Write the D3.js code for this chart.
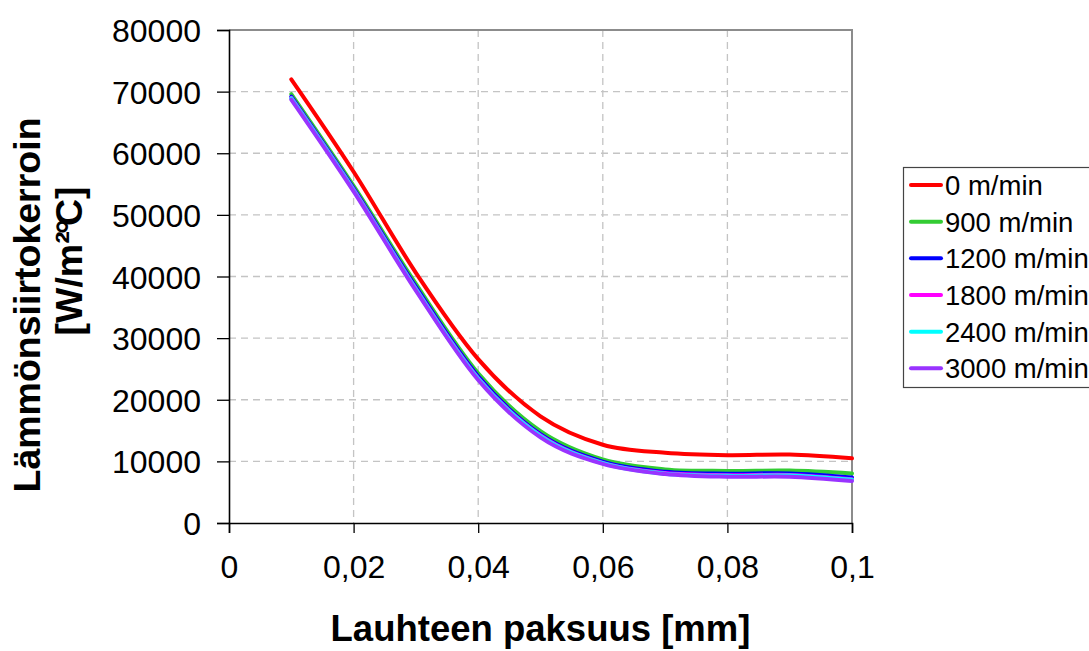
<!DOCTYPE html>
<html>
<head>
<meta charset="utf-8">
<script src="https://cdn.jsdelivr.net/npm/d3@7"></script>
<style>
  html, body { margin: 0; padding: 0; background: #fff; }
  svg { display: block; font-family: "Liberation Sans", Arial, sans-serif; }
</style>
</head>
<body>
<svg id="chart" width="1089" height="651"></svg>
<script>
// Condensate thickness [mm]
const thickness = [0.01, 0.02, 0.03, 0.04, 0.05, 0.06, 0.07, 0.08, 0.09, 0.1];

// Heat transfer coefficient [W/m²°C] for each web speed
const speed0    = [72000, 57000, 40600, 26600, 17300, 12700, 11400, 11000, 11100, 10500];
const speed900  = [69600, 54700, 38800, 24300, 14900, 10300,  8700,  8450,  8500,  8050];
const speed1200 = [69200, 54300, 38300, 23800, 14400,  9950,  8300,  8000,  8050,  7400];
const speed1800 = [69000, 54100, 38000, 23500, 14200,  9750,  8100,  7750,  7800,  7100];
const speed2400 = [68900, 54000, 37900, 23400, 14100,  9700,  8000,  7650,  7700,  7000];
const speed3000 = [68700, 53800, 37700, 23200, 13900,  9600,  7950,  7500,  7500,  6800];

const seriesNames  = ["0 m/min", "900 m/min", "1200 m/min", "1800 m/min", "2400 m/min", "3000 m/min"];
const seriesValues = [speed0, speed900, speed1200, speed1800, speed2400, speed3000];
const seriesColors = ["#ff0000", "#33cc33", "#0000ff", "#ff00ff", "#00ffff", "#9933ff"];

const xTicks = [0, 0.02, 0.04, 0.06, 0.08, 0.1];
const yTicks = [0, 10000, 20000, 30000, 40000, 50000, 60000, 70000, 80000];

const svg = d3.select("#chart");
const plot = { left: 229, right: 852, top: 30, bottom: 523 };

const x = d3.scaleLinear().domain([0, 0.1]).range([plot.left, plot.right]);
const y = d3.scaleLinear().domain([0, 80000]).range([plot.bottom, plot.top]);

// dashed grid
const grid = svg.append("g");
grid.selectAll("line.h").data(yTicks.filter(d => d > 0 && d < 80000)).join("line")
  .attr("x1", plot.left).attr("x2", plot.right)
  .attr("y1", d => y(d)).attr("y2", d => y(d))
  .attr("stroke", "#c4c4c4").attr("stroke-width", 1.3).attr("stroke-dasharray", "7,5");
grid.selectAll("line.v").data(xTicks.filter(d => d > 0 && d < 0.1)).join("line")
  .attr("y1", plot.top).attr("y2", plot.bottom)
  .attr("x1", d => x(d)).attr("x2", d => x(d))
  .attr("stroke", "#c4c4c4").attr("stroke-width", 1.3).attr("stroke-dasharray", "7,5");

// plot frame (top and right)
svg.append("path")
  .attr("d", `M${plot.left},${plot.top}H${plot.right}V${plot.bottom}`)
  .attr("fill", "none").attr("stroke", "#8c8c8c").attr("stroke-width", 2);

// axes
const fmt = d => d === 0 ? "0" : String(d).replace(".", ",");
const xAxis = svg.append("g").attr("transform", `translate(0,${plot.bottom})`)
  .call(d3.axisBottom(x).tickValues(xTicks).tickSize(10).tickPadding(22).tickFormat(fmt));
const yAxis = svg.append("g").attr("transform", `translate(${plot.left},0)`)
  .call(d3.axisLeft(y).tickValues(yTicks).tickSize(12).tickPadding(16).tickFormat(d3.format("d")));

[xAxis, yAxis].forEach(a => {
  a.select(".domain").attr("stroke", "#000").attr("stroke-width", 1.6);
  a.selectAll(".tick line").attr("stroke", "#000").attr("stroke-width", 1.3);
  a.selectAll(".tick text").attr("fill", "#000").style("font-size", "32px")
    .style("font-family", "'Liberation Sans', Arial, sans-serif");
});
yAxis.selectAll(".tick text").attr("dy", "0.36em");

// series
const line = d3.line()
  .x((d, i) => x(thickness[i]))
  .y(d => y(d))
  .curve(d3.curveCardinal.tension(0));

svg.append("g").selectAll("path").data(seriesValues).join("path")
  .attr("d", d => line(d))
  .attr("fill", "none")
  .attr("stroke", (d, i) => seriesColors[i])
  .attr("stroke-width", 4)
  .attr("stroke-linecap", "round")
  .attr("stroke-linejoin", "round");

// axis titles
svg.append("text")
  .attr("x", (plot.left + plot.right) / 2).attr("y", 641)
  .attr("text-anchor", "middle")
  .style("font-size", "36.5px").style("font-weight", "bold")
  .text("Lauhteen paksuus [mm]");

svg.append("text")
  .attr("transform", "translate(40,305) rotate(-90)")
  .attr("text-anchor", "middle")
  .style("font-size", "37.5px").style("font-weight", "bold")
  .text("Lämmönsiirtokerroin");

const unit = svg.append("text")
  .attr("transform", "translate(82,261) rotate(-90)")
  .attr("text-anchor", "middle")
  .style("font-size", "37.5px").style("font-weight", "bold");
unit.append("tspan").text("[W/m²");
unit.append("tspan").attr("dx", "-0.08em").text("°");
unit.append("tspan").attr("dx", "-0.18em").text("C]");

// legend
const legend = svg.append("g").attr("transform", "translate(903,167)");
legend.append("rect")
  .attr("x", 0.5).attr("y", 0.5).attr("width", 200).attr("height", 220)
  .attr("fill", "#fff").attr("stroke", "#444").attr("stroke-width", 1.2);
const item = legend.selectAll("g.item").data(seriesNames).join("g")
  .attr("transform", (d, i) => `translate(0,${18 + i * 36.67})`);
item.append("line")
  .attr("x1", 8).attr("x2", 38).attr("y1", 0).attr("y2", 0)
  .attr("stroke", (d, i) => seriesColors[i]).attr("stroke-width", 4)
  .attr("stroke-linecap", "round");
item.append("text")
  .attr("x", 42).attr("y", 0).attr("dy", "0.36em")
  .style("font-size", "27.5px")
  .text(d => d);
</script>
</body>
</html>
